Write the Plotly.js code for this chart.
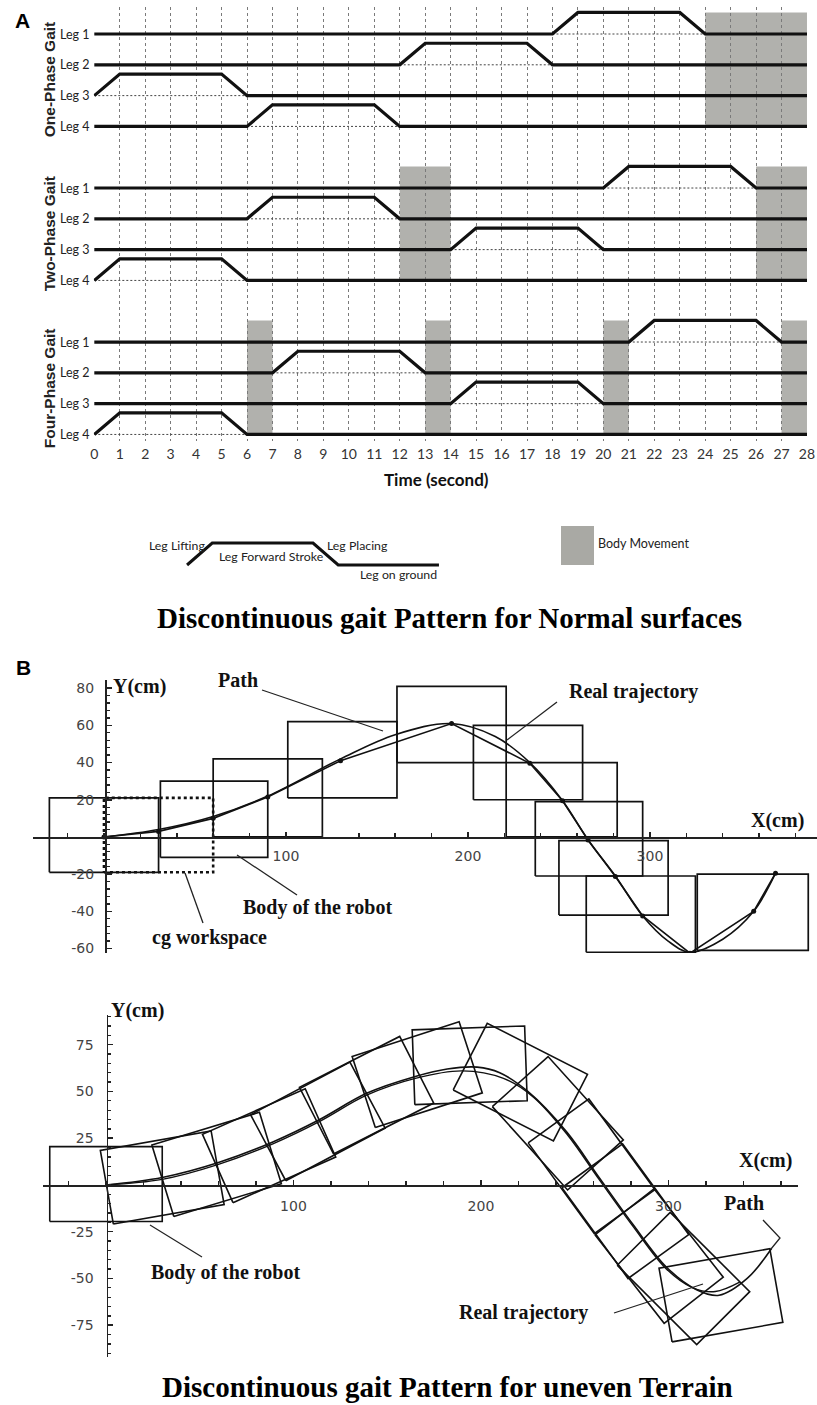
<!DOCTYPE html>
<html><head><meta charset="utf-8">
<script src="https://cdn.plot.ly/plotly-3.0.1.min.js"></script>
<style>html,body{margin:0;padding:0;background:#fff}#chart{width:817px;height:1405px}</style>
</head><body><div id="chart"></div>
<script>
// ================= DATA =================
// Panel A : gait timing diagram
const timeTicks = [0,1,2,3,4,5,6,7,8,9,10,11,12,13,14,15,16,17,18,19,20,21,22,23,24,25,26,27,28];
const legNames = ['Leg 1','Leg 2','Leg 3','Leg 4'];
const gaitNames = ['One-Phase Gait','Two-Phase Gait','Four-Phase Gait'];
// start time (s) of the swing of Leg1..Leg4
const liftStartOne  = [18, 12, 0, 6];
const liftStartTwo  = [20, 6, 14, 0];
const liftStartFour = [21, 7, 14, 0];
// body movement intervals (s)
const bodyMoveOne  = [[24, 28]];
const bodyMoveTwo  = [[12, 14], [26, 28]];
const bodyMoveFour = [[6, 7], [13, 14], [20, 21], [27, 28]];
// lifting, forward stroke, placing durations (s)
const phaseDur = [1, 4, 1];
// legend: lifting, forward stroke, placing, on ground
const legendLabels = ['Leg Lifting', 'Leg Forward Stroke', 'Leg Placing', 'Leg on ground'];
const legendDur = [1, 4, 1, 4];

// Panel B (top): normal surface, robot body rectangles (cm)
const boxTopX0 = [-30, 31, 60, 101, 161, 203, 221, 237, 250, 265, 326];
const boxTopX1 = [30, 90, 120, 161, 221, 263, 282, 296, 310, 325, 387];
const boxTopY0 = [-19, -11, 0, 21, 40, 20, 0, -21, -42, -62, -61];
const boxTopY1 = [21, 30, 42, 62, 81, 60, 40, 19, -2, -21, -20];
const cgX = [0, 60];
const cgY = [-19, 21];
const pathTopX = [0, 30, 60, 90, 130, 160, 191, 215, 234, 252, 266, 281, 296, 310, 322, 340, 357, 369];
const pathTopY = [0, 4, 11, 22, 42, 55, 61, 54, 40, 19.5, -1.6, -21, -42.5, -56, -62, -55, -40, -19.5];
const realTopX = [0, 30, 60, 90, 130, 191, 234, 252, 266, 281, 296, 322, 357, 369];
const realTopY = [0, 3, 10, 21.5, 41, 61, 39.6, 19.5, -1.6, -21.3, -42.5, -62.5, -40, -19.5];

// Panel B (bottom): uneven terrain, rotated robot bodies (centre cm, angle deg)
const boxBotCx  = [0, 30, 59, 87, 113, 139, 166, 194, 221, 241, 259, 277, 295, 308, 328];
const boxBotCy  = [0.5, 4, 11, 21, 34, 48, 59, 64, 55, 33, 10, -14, -38, -50, -59];
const boxBotAng = [0, 10, 17, 24, 28, 27, 18, 2, -27, -48, -54, -54, -52, -45, 10];
const boxLen = 60, boxWid = 40;
const pathBotX = [0, 30, 60, 89, 114, 139, 165, 182, 198, 210, 225, 246, 263, 281, 299, 315, 327, 342, 355];
const pathBotY = [0, 4, 12, 23, 35, 49, 58, 62, 63, 60, 50, 28, 4, -21, -44, -56, -59, -50, -34];
const realBotX = [0, 30, 60, 89, 114, 139, 165, 190, 212, 228, 246, 263, 281, 299, 313, 325, 338];
const realBotY = [0, 3, 11, 22, 34, 48, 57, 61, 57, 47, 27, 3, -22, -45, -55, -57, -52];

// ================= HELPERS =================
const W = 817, H = 1405;
const fx = p => p / W;
const fy = p => 1 - p / H;
const NARROW = 'Lato, "Liberation Sans Narrow", sans-serif';
const ARIAL = '"Liberation Sans", Arial, sans-serif';
const SERIF = '"Liberation Serif", "Times New Roman", serif';
const SANS = '"DejaVu Sans", sans-serif';
const INK = '#111';

const traces = [];
const shapes = [];
const annotations = [];
const txt = (text, x, y, font, xa, ya, extra) => annotations.push(Object.assign({xref:'paper', yref:'paper',
  x:fx(x), y:fy(y), text:text, showarrow:false, xanchor:xa||'center', yanchor:ya||'middle', font:font}, extra||{}));

// ================= PANEL A =================
const LIFT = 0.7, GAP = 5;
const lifts = [liftStartOne, liftStartTwo, liftStartFour];
const bodies = [bodyMoveOne, bodyMoveTwo, bodyMoveFour];
const tEnd = timeTicks[timeTicks.length - 1];

bodies.forEach((list, g) => list.forEach(iv => {
  shapes.push({type:'rect', xref:'x', yref:'y', x0:iv[0], x1:iv[1],
    y0:-(g*GAP + 3), y1:-(g*GAP) + LIFT, fillcolor:'#a9a9a4', opacity:0.9,
    line:{width:0}, layer:'below'});
}));

lifts.forEach((arr, g) => arr.forEach((s, l) => {
  const b = -(g*GAP + l);
  const t1 = s + phaseDur[0], t2 = t1 + phaseDur[1], t3 = t2 + phaseDur[2];
  traces.push({x:[s, t3], y:[b, b], xaxis:'x', yaxis:'y', mode:'lines',
    line:{color:'#444', width:1, dash:'2px,2px'}, hoverinfo:'skip'});
  const xs = [], ys = [];
  if (s > 0) { xs.push(0); ys.push(b); }
  xs.push(s, t1, t2, t3); ys.push(b, b+LIFT, b+LIFT, b);
  if (t3 < tEnd) { xs.push(tEnd); ys.push(b); }
  traces.push({x:xs, y:ys, xaxis:'x', yaxis:'y', mode:'lines',
    line:{color:INK, width:3.2}, hoverinfo:'skip'});
  annotations.push({xref:'paper', yref:'y', x:fx(92), y:b, xanchor:'right', yanchor:'middle',
    text:legNames[l], showarrow:false, font:{family:NARROW, size:12.5, color:'#222'}});
}));

gaitNames.forEach((n, g) => annotations.push({xref:'paper', yref:'y', x:fx(49), y:-(g*GAP + 1.5),
  text:'<b>'+n+'</b>', textangle:-90, showarrow:false, xanchor:'center', yanchor:'middle',
  font:{family:ARIAL, size:15.5, color:'#222'}}));

txt('<b>Time (second)</b>', 437, 479, {family:NARROW, size:17, color:'#111'});
txt('<b>A</b>', 22, 21, {family:ARIAL, size:21, color:'#000'});

// legend of panel A
(function(){
  const xs = [0], ys = [0];
  const lvl = [1, 1, 0, 0];
  let t = 0;
  legendDur.forEach((d, i) => { t += d; xs.push(t); ys.push(lvl[i]); });
  traces.push({x:xs, y:ys, xaxis:'x2', yaxis:'y2', mode:'lines', line:{color:INK, width:3}, hoverinfo:'skip'});
})();
const legPos = [[147, 545], [217, 556], [325, 545], [358, 574]];
legendLabels.forEach((t, i) => txt(t, legPos[i][0], legPos[i][1], {family:NARROW, size:12.3, color:'#222'}, 'left'));
shapes.push({type:'rect', xref:'paper', yref:'paper', x0:fx(561), x1:fx(594), y0:fy(565), y1:fy(526),
  fillcolor:'#a9a9a4', line:{width:0}});
txt('Body Movement', 596, 543, {family:NARROW, size:12.5, color:'#222'}, 'left');

txt('<b>Discontinuous gait Pattern for Normal surfaces</b>', 449, 618, {family:SERIF, size:29, color:'#000'});

// ================= PANEL B top =================
(function(){
  const xs = [], ys = [];
  boxTopX0.forEach((x0, i) => {
    const x1 = boxTopX1[i], y0 = boxTopY0[i], y1 = boxTopY1[i];
    xs.push(x0, x1, x1, x0, x0, null); ys.push(y0, y0, y1, y1, y0, null);
  });
  traces.push({x:xs, y:ys, xaxis:'x3', yaxis:'y3', mode:'lines', line:{color:INK, width:1.7}, hoverinfo:'skip'});
  traces.push({x:[cgX[0], cgX[1], cgX[1], cgX[0], cgX[0]], y:[cgY[0], cgY[0], cgY[1], cgY[1], cgY[0]],
    xaxis:'x3', yaxis:'y3', mode:'lines', line:{color:INK, width:2.6, dash:'dot'}, hoverinfo:'skip'});
  traces.push({x:pathTopX, y:pathTopY, xaxis:'x3', yaxis:'y3', mode:'lines',
    line:{color:INK, width:1.6, shape:'spline', smoothing:1}, hoverinfo:'skip'});
  traces.push({x:realTopX, y:realTopY, xaxis:'x3', yaxis:'y3', mode:'lines+markers',
    line:{color:INK, width:1.6}, marker:{size:5, color:INK}, hoverinfo:'skip'});
})();

// ================= PANEL B bottom =================
(function(){
  const xs = [], ys = [];
  boxBotCx.forEach((cx, i) => {
    const cy = boxBotCy[i], t = boxBotAng[i]*Math.PI/180;
    const ax = boxLen/2*Math.cos(t), ay = boxLen/2*Math.sin(t);
    const px = -boxWid/2*Math.sin(t), py = boxWid/2*Math.cos(t);
    xs.push(cx-ax-px, cx+ax-px, cx+ax+px, cx-ax+px, cx-ax-px, null);
    ys.push(cy-ay-py, cy+ay-py, cy+ay+py, cy-ay+py, cy-ay-py, null);
  });
  traces.push({x:xs, y:ys, xaxis:'x4', yaxis:'y4', mode:'lines', line:{color:INK, width:1.6}, hoverinfo:'skip'});
  traces.push({x:pathBotX, y:pathBotY, xaxis:'x4', yaxis:'y4', mode:'lines',
    line:{color:INK, width:1.6, shape:'spline', smoothing:1}, hoverinfo:'skip'});
  traces.push({x:realBotX, y:realBotY, xaxis:'x4', yaxis:'y4', mode:'lines',
    line:{color:INK, width:1.4, shape:'spline', smoothing:1}, hoverinfo:'skip'});
})();

// labels and leader lines for panel B
const lbl = (t, x, y) => txt('<b>'+t+'</b>', x, y, {family:SERIF, size:20, color:'#111'}, 'left');
const lead = pts => { const d = 'M' + pts.map(p => fx(p[0]) + ',' + fy(p[1])).join(' L');
  shapes.push({type:'path', xref:'paper', yref:'paper', path:d, line:{color:'#222', width:1.3}}); };

txt('<b>B</b>', 23, 668, {family:ARIAL, size:21, color:'#000'});
lbl('Y(cm)', 111, 687); lbl('Path', 216, 680); lbl('Real trajectory', 567, 691);
lbl('X(cm)', 749, 820); lbl('Body of the robot', 241, 907); lbl('cg workspace', 150, 937);
lead([[262, 690], [383, 731]]); lead([[557, 702], [507, 740]]);
lead([[297, 895], [237, 855]]); lead([[203, 923], [185, 873]]);

lbl('Y(cm)', 109, 1010); lbl('X(cm)', 737, 1160); lbl('Path', 722, 1203);
lbl('Real trajectory', 457, 1312); lbl('Body of the robot', 149, 1272);
lead([[763, 1220], [780, 1238], [771, 1249]]); lead([[614, 1313], [703, 1284]]);
lead([[202, 1257], [150, 1225]]);

txt('<b>Discontinuous gait Pattern for uneven Terrain</b>', 447, 1387, {family:SERIF, size:29, color:'#000'});

// ================= LAYOUT =================
const tickFontB = {family:SANS, size:14, color:'#444'};
const layout = {
  width:W, height:H, margin:{l:0, r:0, t:0, b:0}, paper_bgcolor:'#fff', plot_bgcolor:'rgba(0,0,0,0)',
  showlegend:false,
  xaxis:{domain:[fx(93.8), fx(807.5)], range:[-0.02, 28.02], anchor:'y', showgrid:true, gridcolor:'#7a7a7a',
    griddash:'3px,3px', gridwidth:1, tickmode:'array', tickvals:timeTicks, ticks:'outside', ticklen:1,
    tickcolor:'rgba(0,0,0,0)', tickfont:{family:NARROW, size:14, color:'#333'}, zeroline:false, showline:false, fixedrange:true},
  yaxis:{domain:[fy(440.6), fy(6.9)], range:[-13.2, 0.88], anchor:'x', showgrid:false, zeroline:false,
    showticklabels:false, ticks:'', showline:false, fixedrange:true},
  xaxis2:{domain:[fx(182), fx(444)], range:[-0.2, 10.2], anchor:'y2', visible:false},
  yaxis2:{domain:[fy(571.6), fy(536.4)], range:[-0.3, 1.3], anchor:'x2', visible:false},
  xaxis3:{domain:[fx(33), 1], range:[-39.0, 391.8], anchor:'free', position:fy(837), showline:true, linecolor:'#222',
    linewidth:1.5, ticks:'inside', ticklen:5, tickwidth:1.5, tickcolor:'#222', tickmode:'array',
    tickvals:[100, 200, 300], ticktext:['100', '200', '300'], tickfont:tickFontB, ticklabelstandoff:6,
    minor:{tick0:0, dtick:20, ticks:'inside', ticklen:4, tickwidth:1.5, tickcolor:'#222'},
    showgrid:false, zeroline:false},
  yaxis3:{domain:[fy(953), fy(680)], range:[-62.4, 84.4], anchor:'free', position:fx(105), showline:true, linecolor:'#222',
    linewidth:1.6, ticks:'inside', ticklen:5, tickwidth:1.5, tickcolor:'#222', tickmode:'array',
    tickvals:[-60, -40, -20, 20, 40, 60, 80], ticktext:['-60', '-40', '-20', '20', '40', '60', '80'], tickfont:tickFontB,
    ticklabelstandoff:8, minor:{tick0:0, dtick:4, ticks:'inside', ticklen:3, tickwidth:1.3, tickcolor:'#222'},
    showgrid:false, zeroline:false},
  xaxis4:{domain:[fx(43), fx(798)], range:[-33.6, 369.1], anchor:'free', position:fy(1185), showline:true, linecolor:'#222',
    linewidth:1.5, ticks:'inside', ticklen:5, tickwidth:1.5, tickcolor:'#222', tickmode:'array',
    tickvals:[100, 200, 300], ticktext:['100', '200', '300'], tickfont:tickFontB, ticklabelstandoff:8,
    minor:{tick0:0, dtick:20, ticks:'inside', ticklen:4, tickwidth:1.5, tickcolor:'#222'},
    showgrid:false, zeroline:false},
  yaxis4:{domain:[fy(1357), fy(1015)], range:[-92, 90.9], anchor:'free', position:fx(106.5), showline:true, linecolor:'#222',
    linewidth:1.6, ticks:'inside', ticklen:5, tickwidth:1.5, tickcolor:'#222', tickmode:'array',
    tickvals:[-75, -50, -25, 25, 50, 75], ticktext:['-75', '-50', '-25', '25', '50', '75'], tickfont:tickFontB,
    ticklabelstandoff:10, minor:{tick0:0, dtick:5, ticks:'inside', ticklen:3, tickwidth:1.3, tickcolor:'#222'},
    showgrid:false, zeroline:false},
  shapes:shapes,
  annotations:annotations
};
Plotly.newPlot('chart', traces, layout, {staticPlot:true, displayModeBar:false});
</script>
</body></html>
